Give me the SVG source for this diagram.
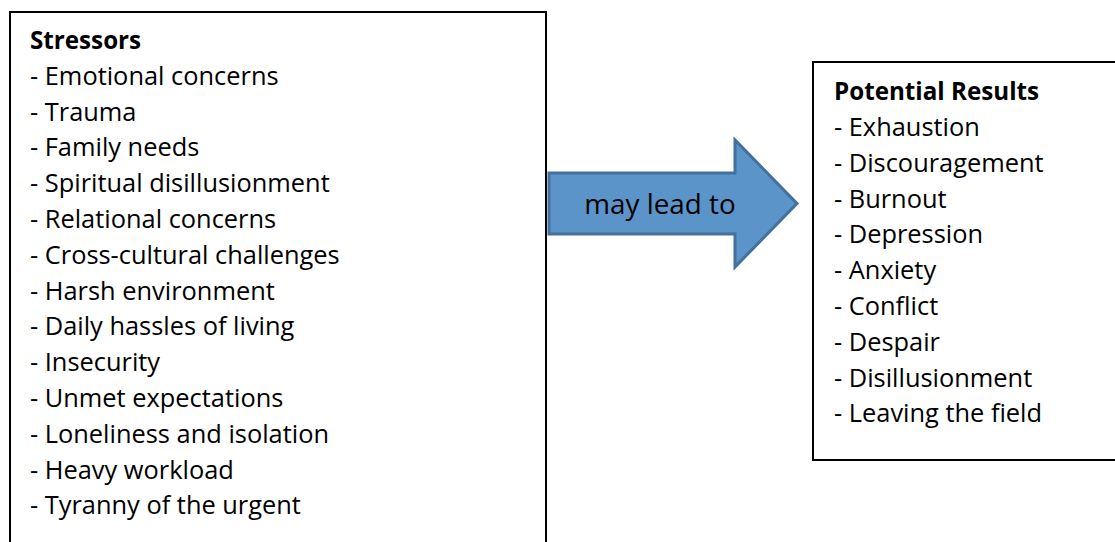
<svg xmlns="http://www.w3.org/2000/svg" width="1115" height="542" viewBox="0 0 1115 542">
<style>
.box{fill:#fff;stroke:#000;stroke-width:2}
.t{font-family:"Open Sans",Lato,sans-serif;font-size:25.4px;fill:#000}
.b{font-weight:bold;font-size:24.2px}
.big{font-size:27.8px}
.arrow{fill:#5b94c9;stroke:#41719c;stroke-width:3;stroke-linejoin:miter}
</style>
<rect width="1115" height="542" fill="#fff"/>
<g id="stressors">
<rect class="box" x="10" y="12" width="536" height="540"/>
<text class="t b" x="30" y="49">Stressors</text>
<text class="t" x="30" y="85">- Emotional concerns</text>
<text class="t" x="30" y="120.6">- Trauma</text>
<text class="t" x="30" y="156.4">- Family needs</text>
<text class="t" x="30" y="192.2">- Spiritual disillusionment</text>
<text class="t" x="30" y="228">- Relational concerns</text>
<text class="t" x="30" y="263.8">- Cross-cultural challenges</text>
<text class="t" x="30" y="299.6">- Harsh environment</text>
<text class="t" x="30" y="335.4">- Daily hassles of living</text>
<text class="t" x="30" y="371.2">- Insecurity</text>
<text class="t" x="30" y="407">- Unmet expectations</text>
<text class="t" x="30" y="442.8">- Loneliness and isolation</text>
<text class="t" x="30" y="478.6">- Heavy workload</text>
<text class="t" x="30" y="514.4">- Tyranny of the urgent</text>
</g>
<g id="connectors">
<g id="arrow">
<polygon class="arrow" points="549,173 735,173 735,140 797,203.5 735,267 735,234 549,234"/>
<text class="t big" x="660" y="214" text-anchor="middle">may lead to</text>
</g>
</g>
<g id="results">
<rect class="box" x="813" y="62" width="310" height="398"/>
<text class="t b" x="834" y="100">Potential Results</text>
<text class="t" x="834" y="136">- Exhaustion</text>
<text class="t" x="834" y="171.8">- Discouragement</text>
<text class="t" x="834" y="207.6">- Burnout</text>
<text class="t" x="834" y="243.4">- Depression</text>
<text class="t" x="834" y="279.2">- Anxiety</text>
<text class="t" x="834" y="315">- Conflict</text>
<text class="t" x="834" y="350.8">- Despair</text>
<text class="t" x="834" y="386.6">- Disillusionment</text>
<text class="t" x="834" y="422.4">- Leaving the field</text>
</g>
</svg>
